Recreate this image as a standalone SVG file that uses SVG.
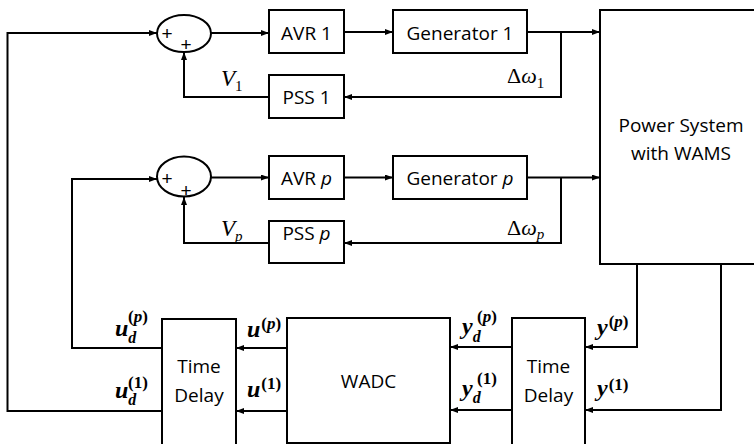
<svg xmlns="http://www.w3.org/2000/svg" width="754" height="444" viewBox="0 0 754 444">
<style>
.box{fill:#fff;stroke:#000;stroke-width:2}
.ln{fill:none;stroke:#000;stroke-width:2}
.ar{marker-end:url(#ah)}
.t{font-family:"Open Sans","Liberation Sans",sans-serif;font-size:19px;text-anchor:middle;fill:#000}
.pl{font-family:"Liberation Sans",sans-serif;font-size:19px;fill:#000;text-anchor:middle}
.m{font-family:"Liberation Serif",serif;font-style:italic;font-size:23px;fill:#000}
.mu{font-family:"Liberation Serif",serif;font-size:22px;fill:#000}
.sub{font-size:15px}
.up{font-style:normal}
.it{font-style:italic}
.b{font-family:"Liberation Serif",serif;font-style:italic;font-weight:bold;font-size:24px;fill:#000}
.bd{font-size:16px}
.bs{font-size:17px;font-style:normal}
</style>
<defs>
<marker id="ah" markerWidth="8" markerHeight="6" refX="8" refY="3" orient="auto" markerUnits="userSpaceOnUse">
<path d="M0,0 L8,3 L0,6 z" fill="#000"/>
</marker>
</defs>
<g id="connectors">
<path class="ln ar" d="M162,411 H7.5 V33 H157"/>
<path class="ln ar" d="M162,348 H72 V179 H157"/>
<path class="ln ar" d="M211,33 H269"/>
<path class="ln ar" d="M344,32 H393"/>
<path class="ln ar" d="M527,32 H600"/>
<path class="ln ar" d="M561,32 V97 H344"/>
<path class="ln ar" d="M269,97 H184 V52"/>
<path class="ln ar" d="M211,177.5 H269"/>
<path class="ln ar" d="M344,177.5 H393"/>
<path class="ln ar" d="M527,177.5 H600"/>
<path class="ln ar" d="M561,177.5 V243 H344"/>
<path class="ln ar" d="M269,243 H184 V197"/>
<path class="ln ar" d="M637,264 V347 H585"/>
<path class="ln ar" d="M721,264 V410 H585"/>
<path class="ln ar" d="M512,347 H450"/>
<path class="ln ar" d="M512,410 H450"/>
<path class="ln ar" d="M287,348 H236"/>
<path class="ln ar" d="M287,411 H236"/>
</g>
<g id="sum1">
<ellipse class="box" cx="184" cy="33.5" rx="27" ry="18.5"/>
<text class="pl" x="167" y="40">+</text>
<text class="pl" x="186" y="51">+</text>
</g>
<g id="sum2">
<ellipse class="box" cx="184" cy="176.5" rx="27" ry="20"/>
<text class="pl" x="167" y="185">+</text>
<text class="pl" x="186" y="197">+</text>
</g>
<g id="avr1"><rect class="box" x="269" y="10" width="75" height="43"/><text class="t" x="306.5" y="40">AVR 1</text></g>
<g id="gen1"><rect class="box" x="393" y="10" width="134" height="43"/><text class="t" x="460" y="40">Generator 1</text></g>
<g id="pss1"><rect class="box" x="269" y="75" width="75" height="43"/><text class="t" x="306.5" y="104">PSS 1</text></g>
<g id="avrp"><rect class="box" x="269" y="156" width="75" height="43"/><text class="t" x="306.5" y="185">AVR <tspan class="it">p</tspan></text></g>
<g id="genp"><rect class="box" x="393" y="156" width="134" height="43"/><text class="t" x="460" y="185">Generator <tspan class="it">p</tspan></text></g>
<g id="pssp"><rect class="box" x="269" y="221" width="75" height="42"/><text class="t" x="306.5" y="240">PSS <tspan class="it">p</tspan></text></g>
<g id="power"><rect class="box" x="600" y="10" width="170" height="254"/><text class="t" x="681" y="132">Power System</text><text class="t" x="681" y="160">with WAMS</text></g>
<g id="td1"><rect class="box" x="162" y="319" width="74" height="135"/><text class="t" x="199" y="373">Time</text><text class="t" x="199" y="402">Delay</text></g>
<g id="wadc"><rect class="box" x="287" y="318" width="163" height="125"/><text class="t" x="368.5" y="388">WADC</text></g>
<g id="td2"><rect class="box" x="512" y="318" width="73" height="135"/><text class="t" x="548.5" y="373">Time</text><text class="t" x="548.5" y="402">Delay</text></g>
<g id="labels">
<text class="m" x="221" y="86">V<tspan class="sub up" dy="5">1</tspan></text>
<text class="m" x="221" y="236">V<tspan class="sub" dy="5">p</tspan></text>
<text class="mu" x="507" y="83">Δ<tspan class="it">ω</tspan><tspan class="sub" dy="5">1</tspan></text>
<text class="mu" x="507" y="235">Δ<tspan class="it">ω</tspan><tspan class="sub it" dy="4">p</tspan></text>
<text class="b" x="115" y="336">u<tspan class="bd" dy="7">d</tspan><tspan class="bs" x="128" dy="-21">(<tspan class="it">p</tspan>)</tspan></text>
<text class="b" x="115" y="398">u<tspan class="bd" dy="7">d</tspan><tspan class="bs" x="128" dy="-17">(1)</tspan></text>
<text class="b" x="247" y="337">u<tspan class="bs" dx="1" dy="-8">(<tspan class="it">p</tspan>)</tspan></text>
<text class="b" x="247" y="397">u<tspan class="bs" dx="1" dy="-8">(1)</tspan></text>
<text class="b" x="462" y="334">y<tspan class="bd" dy="8">d</tspan><tspan class="bs" x="477" dy="-20">(<tspan class="it">p</tspan>)</tspan></text>
<text class="b" x="462" y="396">y<tspan class="bd" dy="7">d</tspan><tspan class="bs" x="477" dy="-19">(1)</tspan></text>
<text class="b" x="597" y="335">y<tspan class="bs" dx="1" dy="-8">(<tspan class="it">p</tspan>)</tspan></text>
<text class="b" x="597" y="396">y<tspan class="bs" dx="1" dy="-6">(1)</tspan></text>
</g>
</svg>
